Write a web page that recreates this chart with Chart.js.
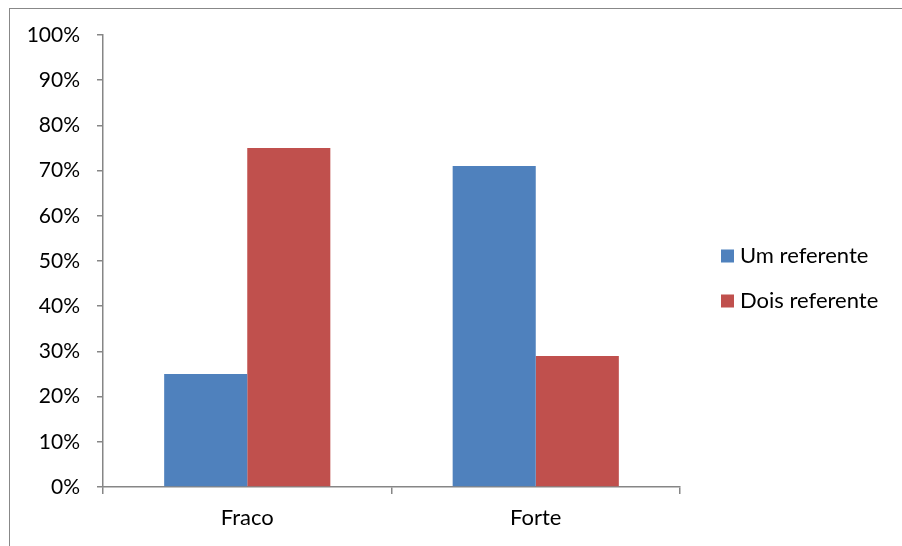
<!DOCTYPE html>
<html>
<head>
<meta charset="utf-8">
<script src="https://cdn.jsdelivr.net/npm/chart.js@4/dist/chart.umd.min.js"></script>
<style>
    html, body { margin: 0; padding: 0; background: #fff; overflow: hidden; }
    #wrap { position: relative; width: 902px; height: 546px; overflow: hidden; }
    #frame { position: absolute; left: 9px; top: 8px; width: 893px; height: 538px; border-left: 1px solid #888; border-top: 1px solid #888; box-sizing: border-box; }
    canvas { position: absolute; left: 0; top: 0; }
</style>
</head>
<body>
<div id="wrap">
    <div id="frame"></div>
    <canvas id="chart" width="902" height="546"></canvas>
</div>
<script>
// values (percent)
const categories = ["Fraco", "Forte"];
const seriesNames = ["Um referente", "Dois referente"];
const umReferente = [25, 71];
const doisReferente = [75, 29];
const yTickStep = 10;
const yMax = 100;

const FONT = "Lato, 'Open Sans', sans-serif";
const AXIS_GRAY = "#868686";
const colors = ["#4F81BD", "#C0504D"];

// legend drawn by hand so it can sit apart from the plot area
const sideLegend = {
    id: "sideLegend",
    afterDraw(chart) {
        const { ctx, chartArea } = chart;
        const x = chartArea.right + 41;
        const rowGap = 45;
        const midY = (chartArea.top + chartArea.bottom) / 2 + 17.5;
        const startY = midY - rowGap * (chart.data.datasets.length - 1) / 2;
        ctx.save();
        ctx.font = "22px " + FONT;
        ctx.textBaseline = "middle";
        chart.data.datasets.forEach((ds, i) => {
            const y = startY + i * rowGap;
            ctx.fillStyle = ds.backgroundColor;
            ctx.fillRect(x, y - 6.5, 13, 13);
            ctx.fillStyle = "#000";
            ctx.fillText(ds.label, x + 19, y);
        });
        ctx.restore();
    },
};

new Chart(document.getElementById("chart"), {
    type: "bar",
    data: {
        labels: categories,
        datasets: [
            { label: seriesNames[0], data: umReferente, backgroundColor: colors[0] },
            { label: seriesNames[1], data: doisReferente, backgroundColor: colors[1] },
        ],
    },
    options: {
        responsive: false,
        animation: false,
        layout: { padding: { top: 35, right: 222, bottom: 0, left: 0 } },
        datasets: { bar: { barPercentage: 1, categoryPercentage: 0.576 } },
        plugins: { legend: { display: false }, tooltip: { enabled: false } },
        scales: {
            x: {
                offset: true,
                grid: { offset: true, drawOnChartArea: false, drawTicks: true, tickLength: 7, color: AXIS_GRAY, lineWidth: 1.5 },
                border: { color: AXIS_GRAY, width: 1.5 },
                ticks: { color: "#000", font: { family: FONT, size: 22 }, padding: 11 },
                afterFit(scale) { scale.height = 59; },
            },
            y: {
                min: 0,
                max: yMax,
                grid: { drawOnChartArea: false, drawTicks: true, tickLength: 6, color: AXIS_GRAY, lineWidth: 1.5 },
                border: { color: AXIS_GRAY, width: 1.5 },
                ticks: {
                    stepSize: yTickStep,
                    color: "#000",
                    font: { family: FONT, size: 21 },
                    padding: 17,
                    callback: (v) => v + "%",
                },
                afterFit(scale) { scale.width = 103; },
            },
        },
    },
    plugins: [sideLegend],
});
</script>
</body>
</html>
